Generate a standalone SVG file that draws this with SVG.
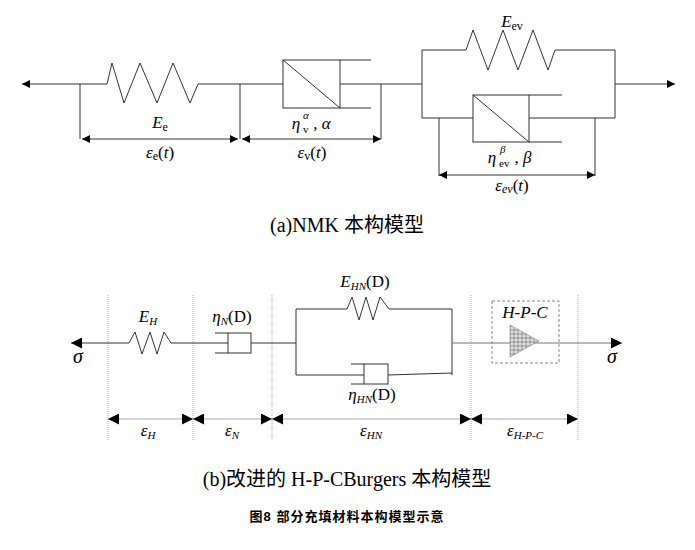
<svg xmlns="http://www.w3.org/2000/svg" width="695" height="550" viewBox="0 0 695 550">
<defs>
<marker id="ah" viewBox="0 0 10 10" refX="10" refY="5" markerWidth="8" markerHeight="8" orient="auto-start-reverse" markerUnits="userSpaceOnUse"><path d="M0,0L10,5L0,10z" fill="#000"/></marker>
<marker id="ab" viewBox="0 0 10 10" refX="10" refY="5" markerWidth="11" markerHeight="11" orient="auto-start-reverse" markerUnits="userSpaceOnUse"><path d="M0,0L10,5L0,10z" fill="#000"/></marker>
<pattern id="dots" width="4" height="4" patternUnits="userSpaceOnUse"><rect width="4" height="4" fill="#ddd"/><circle cx="2" cy="2" r="1.1" fill="none" stroke="#555" stroke-width="0.6"/></pattern>
</defs>
<style>
.l{fill:none;stroke:#333;stroke-width:1}
.g{fill:none;stroke:#777;stroke-width:1}
.d{stroke:#999;stroke-width:0.8;stroke-dasharray:1,1}
.t{font-family:"Liberation Serif",serif;font-size:17px;fill:#000;text-anchor:middle}
.s{font-family:"Liberation Serif",serif;font-size:11px;fill:#000}
.i{font-style:italic}
.c{font-family:"Liberation Serif","Noto Sans CJK SC",serif;font-size:20px;fill:#000;text-anchor:middle}
</style>
<rect width="695" height="550" fill="#fff"/>
<g id="connectors">
<line class="l" x1="80" y1="84" x2="22" y2="84" marker-end="url(#ah)"/>
<path class="l" d="M80,84H107L112,63L124,103L140,63L157,103L173,63L190,103L198,84H283"/>
<path class="l" d="M340,84H422"/>
<path class="l" d="M615,84H675" marker-end="url(#ah)"/>
<path class="l" d="M80,84V139M240,84V139M381,84V139"/>
<line class="l" x1="82" y1="139" x2="238" y2="139" marker-start="url(#ah)" marker-end="url(#ah)"/>
<line class="l" x1="242" y1="139" x2="381" y2="139" marker-start="url(#ah)" marker-end="url(#ah)"/>
<path class="l" d="M422,50V118M422,50H466L473,30L488,70L503,30L518,70L533,30L548,70L555,50H615V118M422,118H473M529,118H615"/>
<path class="l" d="M439,118V176M595,118V176"/>
<line class="l" x1="439" y1="175" x2="595" y2="175" marker-start="url(#ah)" marker-end="url(#ah)"/>
<path class="d" d="M108,295V440M193,295V440M272,295V440M471,295V440M578,295V440"/>
<line class="l" x1="129" y1="343" x2="71" y2="343" marker-end="url(#ab)"/>
<path class="l" d="M129,343L135,332L142,354L150,332L157,354L164,332L171,343H228"/>
<path class="l" d="M251,343H296M296,309V375M296,309H347L352,297L359,320L366,297L373,320L380,297L389,309H452V375M296,375H364M388,375L452,373"/>
<line class="g" x1="452" y1="343" x2="622" y2="343" marker-end="url(#ab)"/>
<line x1="108" y1="419" x2="193" y2="419" stroke="#aaa" marker-start="url(#ab)" marker-end="url(#ab)"/>
<line x1="193" y1="419" x2="272" y2="419" stroke="#aaa" marker-start="url(#ab)" marker-end="url(#ab)"/>
<line x1="272" y1="419" x2="471" y2="419" stroke="#aaa" marker-start="url(#ab)" marker-end="url(#ab)"/>
<line x1="471" y1="419" x2="578" y2="419" stroke="#aaa" marker-start="url(#ab)" marker-end="url(#ab)"/>
</g>
<g id="dashpot-v"><rect class="l" x="283" y="60" width="57" height="48"/><path class="l" d="M283,60L340,108M340,60H371M340,108H371"/></g>
<g id="dashpot-ev"><rect class="l" x="473" y="95" width="56" height="47" fill="#fff"/><path class="l" d="M473,95L529,142M529,95H562M529,142H562"/></g>
<g id="dashpot-N"><rect class="l" x="228" y="333" width="23" height="20"/><path class="l" d="M215,333H228M215,353H228"/></g>
<g id="dashpot-HN"><rect class="l" x="364" y="364" width="24" height="20"/><path class="l" d="M351,364H364M351,384H364"/></g>
<g id="hpc"><rect x="492" y="301" width="67" height="62" fill="none" stroke="#888" stroke-dasharray="3,2"/><path d="M510,325L510,357L539,341z" fill="url(#dots)" stroke="#888" stroke-width="0.6"/>
<text class="t i" x="525" y="318">H-P-C</text></g>
<g id="labels">
<text class="t" x="160" y="128"><tspan class="i">E</tspan><tspan font-size="12" dy="3">e</tspan></text>
<text class="t" x="160" y="158"><tspan class="i">ε</tspan><tspan font-size="12" dy="2">e</tspan><tspan dy="-2">(</tspan><tspan class="i">t</tspan>)</text>
<text class="t i" x="296" y="129">η</text><text class="s i" x="303" y="119">α</text><text class="s" x="303" y="133">v</text><text class="t" x="322" y="129">, <tspan class="i">α</tspan></text>
<text class="t" x="312" y="158"><tspan class="i">ε</tspan><tspan font-size="12" dy="2">v</tspan><tspan dy="-2">(</tspan><tspan class="i">t</tspan>)</text>
<text class="t" x="512" y="27"><tspan class="i">E</tspan><tspan font-size="12" dy="3">ev</tspan></text>
<text class="t i" x="492" y="163">η</text><text class="s i" x="500" y="153">β</text><text class="s" x="499" y="167">ev</text><text class="t" x="523" y="163">, <tspan class="i">β</tspan></text>
<text class="t" x="512" y="191"><tspan class="i">ε</tspan><tspan font-size="12" class="i" dy="2">ev</tspan><tspan dy="-2">(</tspan><tspan class="i">t</tspan>)</text>
<text class="c" x="347" y="232">(a)NMK 本构模型</text>
<text class="t" x="148" y="322"><tspan class="i">E</tspan><tspan font-size="11" class="i" dy="3">H</tspan></text>
<text class="t" x="232" y="322"><tspan class="i">η</tspan><tspan font-size="11" class="i" dy="3">N</tspan><tspan dy="-3">(D)</tspan></text>
<text class="t" x="365" y="287"><tspan class="i">E</tspan><tspan font-size="11" class="i" dy="3">HN</tspan><tspan dy="-3">(D)</tspan></text>
<text class="t" x="372" y="400"><tspan class="i">η</tspan><tspan font-size="11" class="i" dy="3">HN</tspan><tspan dy="-3">(D)</tspan></text>
<text class="t i" x="78" y="363" style="font-size:20px">σ</text>
<text class="t i" x="612" y="363" style="font-size:20px">σ</text>
<text class="t" x="148" y="436"><tspan class="i">ε</tspan><tspan font-size="11" class="i" dy="3">H</tspan></text>
<text class="t" x="232" y="436"><tspan class="i">ε</tspan><tspan font-size="11" class="i" dy="3">N</tspan></text>
<text class="t" x="371" y="436"><tspan class="i">ε</tspan><tspan font-size="11" class="i" dy="3">HN</tspan></text>
<text class="t" x="525" y="436"><tspan class="i">ε</tspan><tspan font-size="11" class="i" dy="3">H-P-C</tspan></text>
<text class="c" x="347" y="486">(b)改进的 H-P-CBurgers 本构模型</text>
<text x="347" y="521" font-family="'Liberation Sans','Noto Sans CJK SC',sans-serif" font-size="13" font-weight="bold" text-anchor="middle" letter-spacing="1">图8  部分充填材料本构模型示意</text>
</g>
</svg>
